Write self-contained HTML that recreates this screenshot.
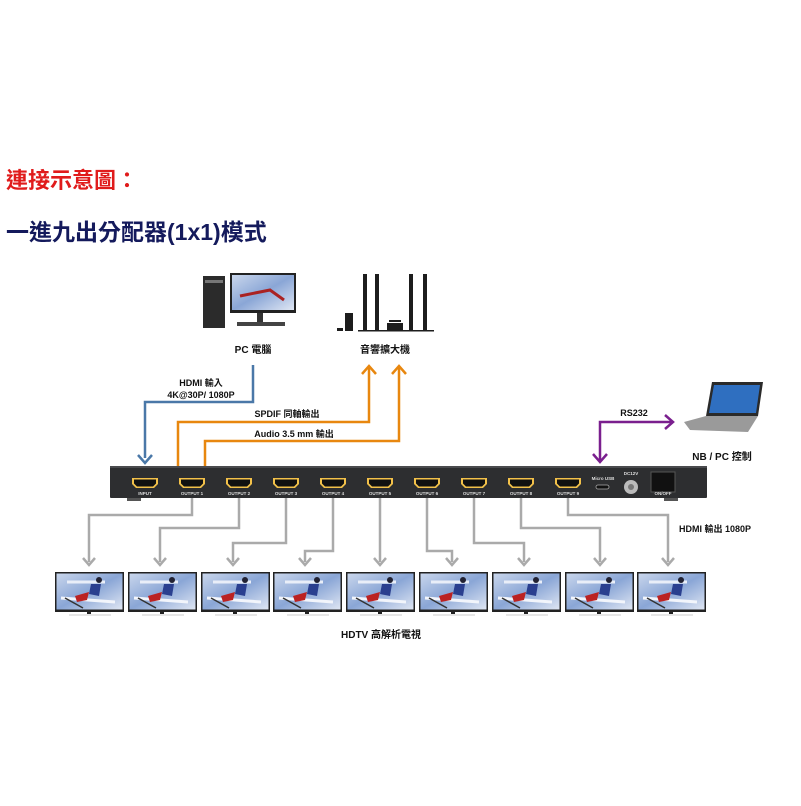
<!DOCTYPE html>
<html><head><meta charset="utf-8"><style>
body{margin:0;background:#fff;width:801px;height:801px;overflow:hidden}
svg text{font-family:"Liberation Sans","Noto Sans CJK TC",sans-serif}
</style></head><body>
<svg width="801" height="801" viewBox="0 0 801 801" xmlns="http://www.w3.org/2000/svg">
<defs>
<linearGradient id="scr" x1="0" y1="0" x2="1" y2="1">
<stop offset="0" stop-color="#c9d6ec"/><stop offset="0.5" stop-color="#8aa6d6"/><stop offset="1" stop-color="#dfe6f3"/>
</linearGradient>
<g id="tv">
<rect x="0" y="0" width="69" height="40" fill="#222"/>
<rect x="1.5" y="1.5" width="66" height="36" fill="url(#scr)"/>
<path d="M12 10 L50 10" stroke="#e9eef8" stroke-width="3"/>
<path d="M6 26 L60 30" stroke="#f2f5fb" stroke-width="3"/>
<circle cx="44" cy="8" r="3" fill="#223"/>
<path d="M36 12 L46 12 L44 24 L34 22Z" fill="#2a3f8f"/>
<path d="M20 24 L34 20 L32 28 L22 30Z" fill="#b22"/>
<path d="M10 26 L28 36" stroke="#333" stroke-width="1.5"/>
<rect x="32" y="40" width="4" height="2" fill="#222"/>
<path d="M14 43 L56 43" stroke="#ccc" stroke-width="1"/>
</g>
<g id="port">
<path d="M-13 -5 L13 -5 L13 1 L9 5 L-9 5 L-13 1Z" fill="#f2c14a"/>
<path d="M-11 -3.5 L11 -3.5 L11 0.5 L8 3.5 L-8 3.5 L-11 0.5Z" fill="#111"/>
</g>
</defs>

<text x="6" y="188" font-size="22" font-weight="bold" fill="#e01b1b" font-family="Liberation Sans,'Noto Sans CJK TC',sans-serif">連接示意圖：</text>
<text x="6" y="240" font-size="23" font-weight="bold" fill="#141a5c" font-family="Liberation Sans,'Noto Sans CJK TC',sans-serif">一進九出分配器(1x1)模式</text>

<!-- PC -->
<rect x="203" y="276" width="22" height="52" fill="#2b2b2b"/>
<rect x="205" y="280" width="18" height="3" fill="#777"/>
<rect x="230" y="273" width="66" height="40" fill="#222"/>
<rect x="232" y="275" width="62" height="35" fill="url(#scr)"/>
<path d="M240 296 L270 290 L284 300" stroke="#a22" stroke-width="3" fill="none"/>
<rect x="257" y="313" width="6" height="9" fill="#333"/>
<rect x="237" y="322" width="48" height="4" fill="#444"/>
<text x="253" y="353" font-size="10" font-weight="bold" text-anchor="middle" fill="#111">PC 電腦</text>

<!-- speakers -->
<g fill="#1d1d1d">
<rect x="345" y="313" width="8" height="18"/>
<rect x="345" y="312" width="2" height="0"/>
<rect x="337" y="328" width="6" height="3"/>
<rect x="363" y="274" width="4" height="56"/>
<rect x="375" y="274" width="4" height="56"/>
<rect x="387" y="323" width="16" height="7"/>
<rect x="389" y="320" width="12" height="2"/>
<rect x="409" y="274" width="4" height="56"/>
<rect x="423" y="274" width="4" height="56"/>
<rect x="358" y="330" width="76" height="1.5"/>
</g>
<text x="385" y="353" font-size="10" font-weight="bold" text-anchor="middle" fill="#111">音響擴大機</text>

<!-- laptop -->
<path d="M712 382 L763 382 L758 416 L706 416Z" fill="#2a2a2a"/>
<path d="M714 385 L760 385 L756 413 L709 413Z" fill="#2f6fc0"/>
<path d="M684 422 L706 416 L758 416 L748 432 L690 430Z" fill="#9a9a9a"/>
<text x="722" y="460" font-size="10" font-weight="bold" text-anchor="middle" fill="#111">NB / PC 控制</text>

<!-- device -->
<rect x="110" y="466" width="597" height="32" fill="#2d2e30" rx="1"/>
<rect x="110" y="466" width="597" height="2" fill="#4a4b4e"/>
<rect x="127" y="498" width="14" height="3" fill="#555"/>
<rect x="664" y="498" width="14" height="3" fill="#555"/>
<g font-size="4.5" fill="#ddd" text-anchor="middle" font-weight="bold">
<use href="#port" x="145" y="483"/><text x="145" y="495">INPUT</text>
<use href="#port" x="192" y="483"/><text x="192" y="495">OUTPUT 1</text>
<use href="#port" x="239" y="483"/><text x="239" y="495">OUTPUT 2</text>
<use href="#port" x="286" y="483"/><text x="286" y="495">OUTPUT 3</text>
<use href="#port" x="333" y="483"/><text x="333" y="495">OUTPUT 4</text>
<use href="#port" x="380" y="483"/><text x="380" y="495">OUTPUT 5</text>
<use href="#port" x="427" y="483"/><text x="427" y="495">OUTPUT 6</text>
<use href="#port" x="474" y="483"/><text x="474" y="495">OUTPUT 7</text>
<use href="#port" x="521" y="483"/><text x="521" y="495">OUTPUT 8</text>
<use href="#port" x="568" y="483"/><text x="568" y="495">OUTPUT 9</text>
<text x="603" y="480">Micro USB</text>
<rect x="596" y="485" width="13" height="4" rx="2" fill="#111" stroke="#aaa" stroke-width="0.8"/>
<text x="631" y="475">DC12V</text>
<circle cx="631" cy="487" r="7" fill="#bbb"/><circle cx="631" cy="487" r="3" fill="#777"/>
<rect x="651" y="472" width="24" height="20" fill="#111" stroke="#555"/>
<text x="663" y="495">ON/OFF</text>
</g>

<!-- blue -->
<path d="M253 365 V402 H145 V458" stroke="#4a78a8" stroke-width="2.5" fill="none"/>
<path d="M138 455 L145 463 L152 455" stroke="#4a78a8" stroke-width="2.5" fill="none"/>
<text x="201" y="386" font-size="9" font-weight="bold" text-anchor="middle" fill="#111">HDMI 輸入</text>
<text x="201" y="398" font-size="9" font-weight="bold" text-anchor="middle" fill="#111">4K@30P/ 1080P</text>
<!-- orange -->
<g stroke="#e8870f" stroke-width="2.5" fill="none">
<path d="M178 466 V422 H369 V367"/><path d="M362 374 L369 366 L376 374"/>
<path d="M205 466 V441 H399 V367"/><path d="M392 374 L399 366 L406 374"/>
</g>
<text x="287" y="417" font-size="9" font-weight="bold" text-anchor="middle" fill="#111">SPDIF 同軸輸出</text>
<text x="294" y="437" font-size="9" font-weight="bold" text-anchor="middle" fill="#111">Audio 3.5 mm 輸出</text>
<!-- purple -->
<g stroke="#7a1f8e" stroke-width="2.5" fill="none">
<path d="M600 460 V422 H671"/><path d="M593 454 L600 462 L607 454"/><path d="M665 415 L673 422 L665 429"/>
</g>
<text x="634" y="416" font-size="9" font-weight="bold" text-anchor="middle" fill="#111">RS232</text>

<!-- grey -->
<g stroke="#aaa" stroke-width="2.5" fill="none">
<path d="M192 498 V515 H89 V562"/>
<path d="M239 498 V528 H160 V562"/>
<path d="M286 498 V543 H233 V562"/>
<path d="M333 498 V551 H305 V562"/>
<path d="M380 498 V562"/>
<path d="M427 498 V551 H452 V562"/>
<path d="M474 498 V543 H524 V562"/>
<path d="M521 498 V528 H600 V562"/>
<path d="M568 498 V515 H668 V562"/>
<path d="M83 558 L89 565 L95 558 M154 558 L160 565 L166 558 M227 558 L233 565 L239 558 M299 558 L305 565 L311 558 M374 558 L380 565 L386 558 M446 558 L452 565 L458 558 M518 558 L524 565 L530 558 M594 558 L600 565 L606 558 M662 558 L668 565 L674 558"/>
</g>
<text x="715" y="532" font-size="9" font-weight="bold" text-anchor="middle" fill="#111">HDMI 輸出 1080P</text>

<use href="#tv" x="55" y="572"/><use href="#tv" x="128" y="572"/><use href="#tv" x="201" y="572"/>
<use href="#tv" x="273" y="572"/><use href="#tv" x="346" y="572"/><use href="#tv" x="419" y="572"/>
<use href="#tv" x="492" y="572"/><use href="#tv" x="565" y="572"/><use href="#tv" x="637" y="572"/>
<text x="381" y="638" font-size="10" font-weight="bold" text-anchor="middle" fill="#111">HDTV 高解析電視</text>
</svg>
</body></html>
